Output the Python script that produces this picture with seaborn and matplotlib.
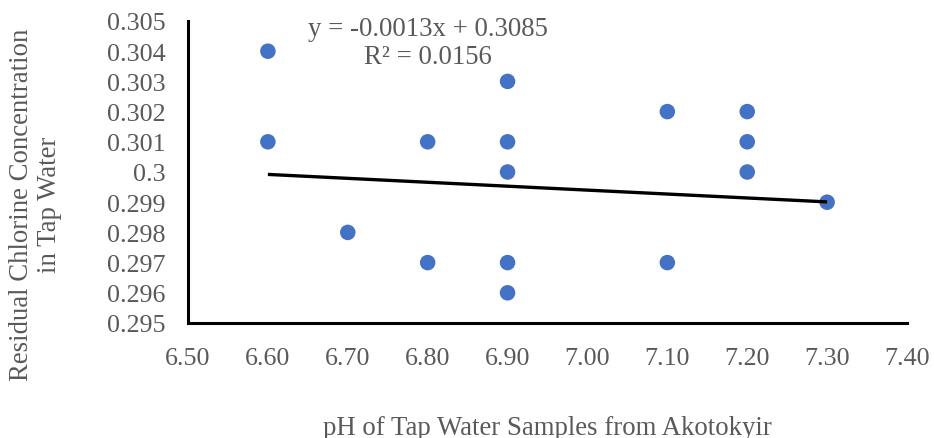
import matplotlib
matplotlib.use("Agg")
import matplotlib.pyplot as plt
import seaborn as sns
import numpy as np
import pandas as pd

# Data
ph_values = [6.6, 6.6, 6.7, 6.8, 6.8, 6.9, 6.9, 6.9, 6.9, 6.9, 7.1, 7.1, 7.2, 7.2, 7.2, 7.3]
chlorine_values = [0.304, 0.301, 0.298, 0.301, 0.297, 0.303, 0.301, 0.300, 0.297, 0.296,
                   0.302, 0.297, 0.302, 0.301, 0.300, 0.299]
trend_slope = -0.0013
trend_intercept = 0.3085
r_squared = 0.0156
x_ticks = [6.50, 6.60, 6.70, 6.80, 6.90, 7.00, 7.10, 7.20, 7.30, 7.40]
y_ticks = [0.295, 0.296, 0.297, 0.298, 0.299, 0.300, 0.301, 0.302, 0.303, 0.304, 0.305]
y_tick_labels = ["0.295", "0.296", "0.297", "0.298", "0.299", "0.3", "0.301", "0.302", "0.303", "0.304", "0.305"]

df = pd.DataFrame({"pH": ph_values, "Cl": chlorine_values})

sns.set_style("white")
plt.rcParams["font.family"] = ["Liberation Serif", "DejaVu Serif"]
text_color = "#595959"
fs_tick = 18.7
fs = 19.3

fig = plt.figure(figsize=(9.34, 4.39), dpi=100)
ax = fig.add_axes([188 / 934, 1 - 324 / 439, (907 - 188) / 934, (324 - 22) / 439])

sns.scatterplot(data=df, x="pH", y="Cl", ax=ax, s=125, color="#4472C4",
                edgecolor="none", linewidth=0, zorder=3, legend=False)

xs = np.array([min(ph_values), max(ph_values)])
ax.plot(xs, trend_slope * xs + trend_intercept, color="black", linewidth=2.4, zorder=4,
        solid_capstyle="butt")

ax.set_xlim(6.5, 7.4)
ax.set_ylim(0.295, 0.305)
ax.set_xticks(x_ticks)
ax.set_xticklabels([f"{v:.2f}" for v in x_ticks])
ax.set_yticks(y_ticks)
ax.set_yticklabels(y_tick_labels)
ax.tick_params(axis="both", length=0, labelsize=fs_tick, labelcolor=text_color)
ax.tick_params(axis="x", pad=17.5)
ax.tick_params(axis="y", pad=16)

for side in ["top", "right"]:
    ax.spines[side].set_visible(False)
for side in ["left", "bottom"]:
    ax.spines[side].set_color("black")
    ax.spines[side].set_linewidth(2.2)

ax.set_xlabel("pH of Tap Water Samples from Akotokyir", fontsize=fs, color=text_color,
              va="center")
ax.set_ylabel("Residual Chlorine Concentration\nin Tap Water", fontsize=fs, color=text_color,
              linespacing=1.15)
ax.xaxis.set_label_coords(0.5, -0.345)
ax.yaxis.set_label_coords(-0.175, 0.394)

ax.text(0.334, 0.93, f"y = {trend_slope:.4f}x + {trend_intercept:.4f}\nR² = {r_squared:.4f}",
        transform=ax.transAxes, ha="center", va="center", multialignment="center",
        fontsize=fs, color=text_color, linespacing=1.15)

fig.savefig("out.png", dpi=100)
